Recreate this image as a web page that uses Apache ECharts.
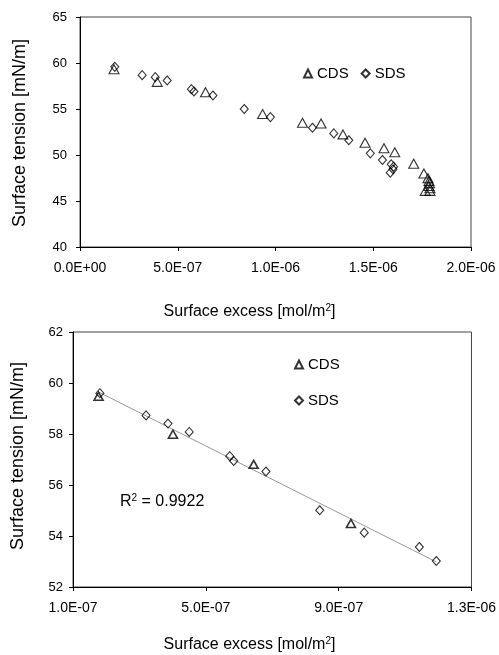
<!DOCTYPE html>
<html>
<head>
<meta charset="utf-8">
<script src="https://cdn.jsdelivr.net/npm/echarts@6/dist/echarts.min.js"></script>
<style>
  html, body { margin: 0; padding: 0; background: #fff; }
  #chart { width: 499px; height: 655px; }
</style>
</head>
<body>
<div id="chart"></div>
<script>
// upper plot: full range
var topCDS = [
  [1.74e-7, 59.33], [3.95e-7, 57.95], [6.42e-7, 56.83], [9.34e-7, 54.45],
  [1.138e-6, 53.5], [1.233e-6, 53.43], [1.345e-6, 52.24], [1.458e-6, 51.33],
  [1.555e-6, 50.73], [1.61e-6, 50.29], [1.707e-6, 49.05], [1.759e-6, 48.0],
  [1.78e-6, 47.47], [1.785e-6, 47.18], [1.788e-6, 46.93], [1.785e-6, 46.64],
  [1.79e-6, 46.39], [1.79e-6, 46.1], [1.766e-6, 46.1]
]
var topSDS = [
  [1.78e-7, 59.58], [3.18e-7, 58.68], [3.85e-7, 58.46], [4.46e-7, 58.1],
  [5.7e-7, 57.16], [5.83e-7, 56.9], [6.8e-7, 56.47], [8.4e-7, 55.0],
  [9.74e-7, 54.12], [1.189e-6, 52.96], [1.298e-6, 52.35], [1.375e-6, 51.6],
  [1.485e-6, 50.18], [1.547e-6, 49.46], [1.592e-6, 48.99], [1.604e-6, 48.73],
  [1.601e-6, 48.45], [1.587e-6, 48.08]
]
// lower plot: zoomed range with trendline
var bottomCDS = [
  [1.77e-7, 59.48], [4.01e-7, 57.99], [6.44e-7, 56.81], [9.37e-7, 54.49]
]
var bottomSDS = [
  [1.81e-7, 59.6], [3.2e-7, 58.73], [3.86e-7, 58.41], [4.5e-7, 58.08],
  [5.72e-7, 57.13], [5.84e-7, 56.94], [6.81e-7, 56.53], [8.43e-7, 55.01],
  [9.77e-7, 54.13], [1.143e-6, 53.57], [1.194e-6, 53.02]
]
var rSquared = '0.9922'

var xTitle = 'Surface excess [mol/m{sup|2}]'
var yTitle = 'Surface tension [mN/m]'

// least squares line through the lower plot points
function fitLine(points) {
  var n = points.length, sx = 0, sy = 0, sxx = 0, sxy = 0
  points.forEach(function(p) {
    sx += p[0]; sy += p[1]; sxx += p[0] * p[0]; sxy += p[0] * p[1]
  })
  var slope = (n * sxy - sx * sy) / (n * sxx - sx * sx)
  var icpt = (sy - slope * sx) / n
  var xs = points.map(function(p) { return p[0] })
  var x0 = Math.min.apply(null, xs), x1 = Math.max.apply(null, xs)
  return [[x0, icpt + slope * x0], [x1, icpt + slope * x1]]
}
var trend = fitLine(bottomCDS.concat(bottomSDS))

function sci(v) {
  var s = Number(v).toExponential(1).toUpperCase()
  var parts = s.split('E')
  var exp = parts[1]
  var sign = exp.charAt(0)
  var digits = exp.slice(1)
  if (digits.length < 2) digits = '0' + digits
  return parts[0] + 'E' + sign + digits
}

var font = 'Liberation Sans, Arial, sans-serif'
var markerStyle = { color: 'rgba(255,255,255,0)', borderColor: '#000', borderWidth: 1.1 }
var supStyle = { fontSize: 10, verticalAlign: 'top', padding: [0, 0, 8, 0], fontFamily: font }

function xAxis(idx, min, max, interval) {
  return {
    type: 'value', gridIndex: idx, min: min, max: max, interval: interval,
    axisLine: { show: true, onZero: false, lineStyle: { color: '#000', width: 1 } },
    axisTick: { show: true, inside: false, length: 4, lineStyle: { color: '#000' } },
    axisLabel: {
      margin: 14, color: '#000', fontFamily: font, fontSize: 14,
      showMinLabel: true, showMaxLabel: true, formatter: sci
    },
    splitLine: { show: false }
  }
}
function yAxis(idx, min, max, interval, margin) {
  return {
    type: 'value', gridIndex: idx, min: min, max: max, interval: interval,
    axisLine: { show: true, lineStyle: { color: '#000', width: 1 } },
    axisTick: { show: true, inside: false, length: 4, lineStyle: { color: '#000' } },
    axisLabel: {
      margin: margin, color: '#000', fontFamily: font, fontSize: 13,
      showMinLabel: true, showMaxLabel: true
    },
    splitLine: { show: false }
  }
}

var chart = echarts.init(document.getElementById('chart'))
chart.setOption({
  animation: false,
  backgroundColor: '#fff',
  grid: [
    { left: 80, top: 17, right: 28, bottom: 408, show: true, borderColor: '#444', borderWidth: 1 },
    { left: 73, top: 332, right: 25, bottom: 68, show: true, borderColor: '#444', borderWidth: 1 }
  ],
  xAxis: [xAxis(0, 0, 2e-6, 5e-7), xAxis(1, 1e-7, 1.3e-6, 4e-7)],
  yAxis: [yAxis(0, 40, 65, 5, 13), yAxis(1, 52, 62, 2, 10)],
  legend: [
    {
      left: 303, top: 66, padding: 0, orient: 'horizontal', itemWidth: 8, itemHeight: 8, itemGap: 12,
      textStyle: { fontFamily: font, fontSize: 15, color: '#000' },
      data: [{ name: 'CDS', icon: 'triangle' }, { name: 'SDS', icon: 'diamond' }],
      selectedMode: false
    },
    {
      left: 294, top: 357, padding: 0, orient: 'vertical', itemWidth: 8, itemHeight: 8, itemGap: 21,
      textStyle: { fontFamily: font, fontSize: 15, color: '#000' },
      data: [{ name: 'CDS', icon: 'triangle' }, { name: 'SDS', icon: 'diamond' }],
      selectedMode: false
    }
  ],
  graphic: [
    {
      type: 'text', left: 'center', top: 303, x: -18,
      style: { text: xTitle, font: '16px ' + font, fill: '#000', rich: { sup: supStyle } }
    },
    {
      type: 'text', left: 'center', top: 636, x: -20,
      style: { text: xTitle, font: '16px ' + font, fill: '#000', rich: { sup: supStyle } }
    },
    {
      type: 'text', x: 20, y: 133, rotation: Math.PI / 2,
      style: { text: yTitle, font: '18px ' + font, fill: '#000', align: 'center', verticalAlign: 'middle' }
    },
    {
      type: 'text', x: 18, y: 456, rotation: Math.PI / 2,
      style: { text: yTitle, font: '18px ' + font, fill: '#000', align: 'center', verticalAlign: 'middle' }
    },
    {
      type: 'text', x: 120, y: 502,
      style: { text: 'R{sup|2} = ' + rSquared, font: '16px ' + font, fill: '#000', verticalAlign: 'middle',
        rich: { sup: supStyle } }
    }
  ],
  series: [
    {
      name: 'CDS', type: 'scatter', xAxisIndex: 0, yAxisIndex: 0,
      symbol: 'triangle', symbolSize: [10, 9], itemStyle: markerStyle, data: topCDS
    },
    {
      name: 'SDS', type: 'scatter', xAxisIndex: 0, yAxisIndex: 0,
      symbol: 'diamond', symbolSize: [8, 9], itemStyle: markerStyle, data: topSDS
    },
    {
      name: 'trend', type: 'line', xAxisIndex: 1, yAxisIndex: 1,
      showSymbol: false, lineStyle: { color: '#999', width: 1 }, data: trend, z: 1
    },
    {
      name: 'CDS', type: 'scatter', xAxisIndex: 1, yAxisIndex: 1,
      symbol: 'triangle', symbolSize: [9, 8], itemStyle: { color: 'rgba(255,255,255,0)', borderColor: '#000', borderWidth: 1.6 },
      data: bottomCDS, z: 3
    },
    {
      name: 'SDS', type: 'scatter', xAxisIndex: 1, yAxisIndex: 1,
      symbol: 'diamond', symbolSize: [8, 9], itemStyle: markerStyle, data: bottomSDS, z: 3
    }
  ]
})
</script>
</body>
</html>
